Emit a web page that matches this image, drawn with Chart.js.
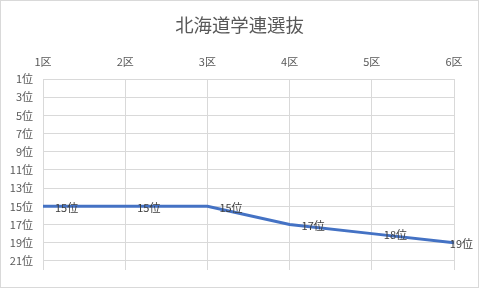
<!DOCTYPE html>
<html><head><meta charset="utf-8">
<script src="https://cdn.jsdelivr.net/npm/chart.js@4/dist/chart.umd.min.js"></script>
<style>html,body{margin:0;padding:0;background:#fff;}#wrap{width:479px;height:288px;position:relative;}</style>
</head><body><div id="wrap"><canvas id="c"></canvas></div>
<script>
const categories = ["1区","2区","3区","4区","5区","6区"];
const ranks = [15,15,15,17,18,19];
const rankTicks = [1,3,5,7,9,11,13,15,17,19,21];
const title = "北海道学連選抜";
const FONT = "'Noto Sans CJK JP','Noto Sans',sans-serif";

const borderPlugin = {
  id:'border',
  afterDraw(chart){
    const ctx = chart.ctx;
    ctx.save();
    ctx.strokeStyle = '#d9d9d9';
    ctx.lineWidth = 1;
    ctx.strokeRect(0.5,0.5,chart.width-1,chart.height-1);
    ctx.font = "18.4px " + FONT;
    ctx.fillStyle = '#595959';
    ctx.textAlign = 'center';
    ctx.textBaseline = 'middle';
    ctx.fillText(title, chart.width/2, 25);
    ctx.restore();
  }
};
const labelPlugin = {
  id:'dlabels',
  afterDatasetsDraw(chart){
    const ctx = chart.ctx;
    const meta = chart.getDatasetMeta(0);
    ctx.save();
    ctx.font = "11px " + FONT;
    ctx.fillStyle = '#404040';
    ctx.textBaseline = 'middle';
    ctx.textAlign = 'left';
    meta.data.forEach((pt,i)=>{
      const txt = ranks[i] + "位";
      const w = ctx.measureText(txt).width;
      let x = pt.x + 12;
      if (x + w > chart.width - 6) x = chart.width - 6 - w;
      ctx.fillText(txt, x, pt.y + 1);
    });
    ctx.restore();
  }
};

new Chart(document.getElementById('c'), {
  type:'line',
  data:{labels:categories, datasets:[{data:ranks, borderColor:'#4472C4', borderWidth:3, pointRadius:0, tension:0, fill:false}]},
  options:{
    responsive:true, maintainAspectRatio:false, animation:false,
    layout:{padding:{left:0,right:25,bottom:18,top:35.6}},
    plugins:{
      legend:{display:false}, tooltip:{enabled:false}, title:{display:false}
    },
    scales:{
      x:{
        position:'top', offset:false,
        grid:{color:'#d9d9d9', drawTicks:false},
        border:{display:false},
        ticks:{color:'#595959', font:{family:FONT,size:11}, padding:11, maxRotation:0},
        afterFit(s){ s.height = 43.4; }
      },
      y:{
        reverse:true, min:1, max:22,
        grid:{color:'#d9d9d9', drawTicks:false},
        border:{display:false},
        afterBuildTicks(s){ s.ticks = rankTicks.map(v=>({value:v})); },
        ticks:{color:'#595959', font:{family:FONT,size:11}, padding:10, callback:(v)=>v+"位"},
        afterFit(s){ s.width = 43; }
      }
    }
  },
  plugins:[borderPlugin,labelPlugin]
});
</script></body></html>
